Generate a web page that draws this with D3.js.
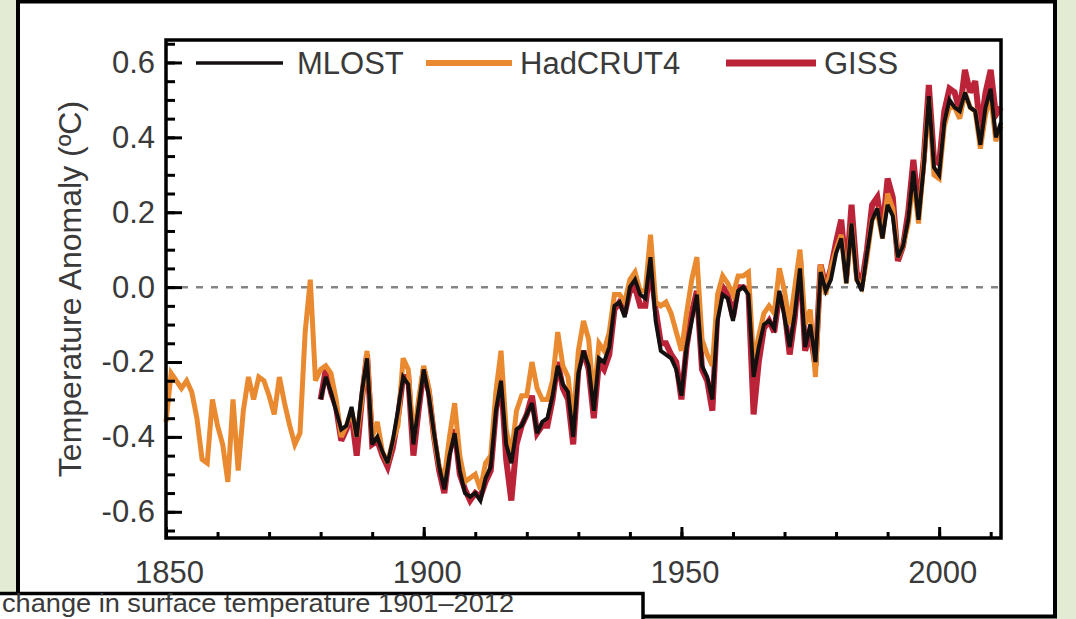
<!DOCTYPE html>
<html>
<head>
<meta charset="utf-8">
<script src="https://cdnjs.cloudflare.com/ajax/libs/d3/7.8.5/d3.min.js"></script>
<style>
  html, body { margin:0; padding:0; background:#e3ebd5; }
  svg { display:block; }
  text { font-family: "Liberation Sans", Arial, sans-serif; fill:#3a3a3a; }
</style>
</head>
<body>
<svg id="chart" width="1076" height="619"></svg>
<script>
// Data (annual anomalies)
const seriesNames = ["MLOST", "HadCRUT4", "GISS"];
const seriesColors = ["#141010", "#ea8a30", "#bb2438"];

const hadcrutStart = 1850;
const hadcrut4 = [
  -0.36, -0.23, -0.25, -0.27, -0.25, -0.28, -0.35, -0.46, -0.47, -0.30,
  -0.37, -0.42, -0.52, -0.30, -0.49, -0.33, -0.24, -0.30, -0.24, -0.25,
  -0.29, -0.34, -0.24, -0.31, -0.37, -0.42, -0.39, -0.12, 0.02, -0.25,
  -0.22, -0.21, -0.23, -0.30, -0.40, -0.37, -0.33, -0.40, -0.30, -0.17,
  -0.40, -0.36, -0.44, -0.47, -0.41, -0.37, -0.19, -0.22, -0.41, -0.30,
  -0.21, -0.27, -0.40, -0.48, -0.51, -0.40, -0.31, -0.45, -0.52, -0.51,
  -0.50, -0.54, -0.47, -0.45, -0.28, -0.17, -0.38, -0.45, -0.33, -0.29,
  -0.29, -0.20, -0.27, -0.30, -0.30, -0.25, -0.12, -0.21, -0.24, -0.36,
  -0.17, -0.09, -0.14, -0.30, -0.15, -0.17, -0.12, -0.02, -0.02, -0.04,
  0.02, 0.04, -0.01, -0.01, 0.14, -0.04, -0.05, -0.04, -0.07, -0.12,
  -0.17, -0.07, 0.02, 0.08, -0.14, -0.18, -0.21, -0.02, 0.03, 0.01,
  -0.02, 0.03, 0.03, 0.04, -0.20, -0.13, -0.07, -0.05, -0.07, 0.05,
  -0.01, -0.10, 0.00, 0.10, -0.10, -0.06, -0.24, 0.06, -0.02, 0.05,
  0.10, 0.14, 0.01, 0.17, 0.02, 0.00, 0.08, 0.18, 0.20, 0.13,
  0.25, 0.21, 0.08, 0.11, 0.17, 0.29, 0.17, 0.33, 0.50, 0.30,
  0.29, 0.43, 0.48, 0.48, 0.45, 0.52, 0.48, 0.47, 0.37, 0.46,
  0.51, 0.39, 0.43
];

const mlostStart = 1880;
const mlost = [
  -0.30, -0.24, -0.28, -0.33, -0.38, -0.37, -0.32, -0.40, -0.28, -0.19,
  -0.42, -0.40, -0.44, -0.47, -0.41, -0.33, -0.24, -0.26, -0.42, -0.32,
  -0.22, -0.29, -0.39, -0.48, -0.54, -0.45, -0.39, -0.49, -0.55, -0.56,
  -0.55, -0.57, -0.51, -0.48, -0.33, -0.25, -0.42, -0.47, -0.38, -0.37,
  -0.34, -0.31, -0.39, -0.36, -0.35, -0.29, -0.21, -0.26, -0.28, -0.40,
  -0.23, -0.17, -0.21, -0.33, -0.19, -0.20, -0.16, -0.05, -0.04, -0.08,
  0.00, 0.02, -0.02, -0.03, 0.08, -0.09, -0.17, -0.18, -0.19, -0.22,
  -0.29, -0.16, -0.09, -0.02, -0.21, -0.24, -0.30, -0.09, -0.02, -0.03,
  -0.09, -0.01, 0.00, -0.02, -0.24, -0.16, -0.10, -0.09, -0.11, -0.01,
  -0.08, -0.16, -0.07, 0.05, -0.16, -0.10, -0.20, 0.04, -0.01, 0.02,
  0.09, 0.13, 0.01, 0.17, 0.02, -0.01, 0.09, 0.18, 0.21, 0.13,
  0.22, 0.19, 0.08, 0.11, 0.18, 0.31, 0.18, 0.32, 0.51, 0.32,
  0.30, 0.44, 0.50, 0.48, 0.47, 0.52, 0.48, 0.47, 0.38, 0.48,
  0.53, 0.40, 0.44
];

const gissStart = 1880;
const giss = [
  -0.30, -0.22, -0.28, -0.32, -0.41, -0.38, -0.34, -0.45, -0.30, -0.18,
  -0.42, -0.41, -0.45, -0.48, -0.43, -0.35, -0.24, -0.24, -0.45, -0.33,
  -0.22, -0.28, -0.40, -0.49, -0.55, -0.44, -0.38, -0.50, -0.54, -0.57,
  -0.55, -0.56, -0.52, -0.49, -0.33, -0.24, -0.46, -0.57, -0.42, -0.37,
  -0.34, -0.29, -0.39, -0.37, -0.37, -0.30, -0.20, -0.27, -0.30, -0.42,
  -0.22, -0.17, -0.22, -0.35, -0.20, -0.22, -0.18, -0.06, -0.04, -0.07,
  -0.01, 0.00, -0.05, -0.05, 0.06, -0.06, -0.15, -0.15, -0.18, -0.20,
  -0.30, -0.16, -0.07, -0.01, -0.22, -0.25, -0.33, -0.06, 0.00, -0.02,
  -0.08, 0.00, 0.00, -0.01, -0.34, -0.20, -0.11, -0.09, -0.12, -0.02,
  -0.06, -0.18, -0.08, 0.08, -0.17, -0.12, -0.21, 0.06, 0.00, 0.05,
  0.12, 0.18, 0.03, 0.22, 0.04, 0.01, 0.10, 0.22, 0.24, 0.15,
  0.29, 0.24, 0.07, 0.11, 0.20, 0.34, 0.21, 0.34, 0.54, 0.34,
  0.33, 0.47, 0.53, 0.52, 0.47, 0.58, 0.52, 0.55, 0.42, 0.52,
  0.58, 0.46, 0.48
];

const yTicks = [-0.6, -0.4, -0.2, 0.0, 0.2, 0.4, 0.6];
const xTicks = [1850, 1900, 1950, 2000];
const yTitle = "Temperature Anomaly (ºC)";
const caption = "change in surface temperature 1901–2012";

// Layout
const svg = d3.select("#chart");
const plot = {left:166, right:1001, top:40, bottom:538};
const fontSize = 31;

const x = d3.scaleLinear().domain([1850, 2012]).range([plot.left, plot.right]);
const y = d3.scaleLinear().domain([-0.67, 0.66]).range([plot.bottom, plot.top]);

// outer white panel with black frame
svg.append("rect")
  .attr("x", 18).attr("y", 1.5)
  .attr("width", 1037).attr("height", 615)
  .attr("fill", "#fff")
  .attr("stroke", "#000")
  .attr("stroke-width", 4);

// zero reference line
svg.append("line")
  .attr("x1", plot.left).attr("x2", plot.right)
  .attr("y1", y(0)).attr("y2", y(0))
  .attr("stroke", "#858585")
  .attr("stroke-width", 2.5)
  .attr("stroke-dasharray", "7,8");

// series lines
const toPoints = (vals, start) => vals.map((v, i) => ({year:start + i, value:v}));
const series = [
  {name:seriesNames[0], color:seriesColors[0], pts:toPoints(mlost, mlostStart), width:4},
  {name:seriesNames[1], color:seriesColors[1], pts:toPoints(hadcrut4, hadcrutStart), width:5},
  {name:seriesNames[2], color:seriesColors[2], pts:toPoints(giss, gissStart), width:6}
];

const line = d3.line()
  .x(d => x(d.year))
  .y(d => y(d.value));

// draw GISS first, then HadCRUT4, MLOST on top
for (let s of [series[2], series[1], series[0]]) {
  svg.append("path")
    .datum(s.pts)
    .attr("fill", "none")
    .attr("stroke", s.color)
    .attr("stroke-width", s.width)
    .attr("stroke-linejoin", "miter")
    .attr("stroke-miterlimit", 3)
    .attr("d", line);
}

// axes
const fmt = d => d.toFixed(1);
const minorY = d3.range(-13, 14).map(i => i * 0.05);
const minorX = d3.range(1860, 2011, 10);

function styleAxis(g) {
  g.select(".domain").remove();
  g.selectAll(".tick line").attr("stroke", "#000").attr("stroke-width", 3);
  g.selectAll(".tick text")
    .attr("fill", "#3a3a3a")
    .style("font-size", fontSize + "px")
    .style("font-family", "'Liberation Sans', Arial, sans-serif");
}

svg.append("g")
  .attr("transform", `translate(${plot.left},0)`)
  .call(d3.axisLeft(y).tickValues(minorY).tickSize(-9).tickFormat(""))
  .call(styleAxis);

svg.append("g")
  .attr("transform", `translate(${plot.left},0)`)
  .call(d3.axisLeft(y).tickValues(yTicks).tickSize(-16).tickPadding(11).tickFormat(fmt))
  .call(styleAxis);

svg.append("g")
  .attr("transform", `translate(0,${plot.bottom})`)
  .call(d3.axisBottom(x).tickValues(minorX).tickSize(-6).tickFormat(""))
  .call(styleAxis);

svg.append("g")
  .attr("transform", `translate(0,${plot.bottom})`)
  .call(d3.axisBottom(x).tickValues(xTicks).tickSize(-11).tickPadding(23).tickFormat(d3.format("d")))
  .call(styleAxis)
  .selectAll(".tick text").attr("dx", 3);

// plot frame
svg.append("rect")
  .attr("x", plot.left).attr("y", plot.top)
  .attr("width", plot.right - plot.left)
  .attr("height", plot.bottom - plot.top)
  .attr("fill", "none")
  .attr("stroke", "#000")
  .attr("stroke-width", 3.5);

// y title
svg.append("text")
  .attr("transform", `translate(81,${(plot.top + plot.bottom) / 2}) rotate(-90)`)
  .attr("text-anchor", "middle")
  .style("font-size", "32px")
  .text(yTitle);

// legend
const legendPos = [
  {x1:196, x2:283, tx:297, w:3.5},
  {x1:426, x2:512, tx:520, w:6},
  {x1:726, x2:816, tx:824, w:7}
];
const legend = svg.append("g").selectAll("g")
  .data(series)
  .enter().append("g");
legend.append("line")
  .attr("x1", (d, i) => legendPos[i].x1)
  .attr("x2", (d, i) => legendPos[i].x2)
  .attr("y1", 63).attr("y2", 63)
  .attr("stroke", d => d.color)
  .attr("stroke-width", (d, i) => legendPos[i].w);
legend.append("text")
  .attr("x", (d, i) => legendPos[i].tx)
  .attr("y", 63)
  .attr("dy", "0.35em")
  .style("font-size", fontSize + "px")
  .text(d => d.name);

// caption box at lower left (cut by the picture edge)
svg.append("rect")
  .attr("x", -5).attr("y", 593.5)
  .attr("width", 648).attr("height", 40)
  .attr("fill", "#fff")
  .attr("stroke", "#000")
  .attr("stroke-width", 3.5);
svg.append("text")
  .attr("x", 2).attr("y", 612)
  .attr("fill", "#222")
  .attr("textLength", 512)
  .attr("lengthAdjust", "spacingAndGlyphs")
  .style("font-size", "25px")
  .text(caption);
</script>
</body>
</html>
